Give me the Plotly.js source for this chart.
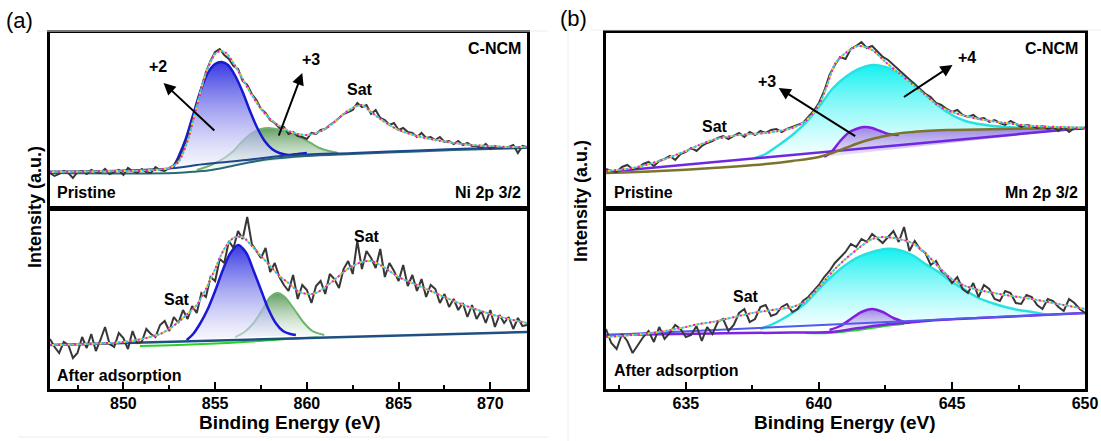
<!DOCTYPE html>
<html>
<head>
<meta charset="utf-8">
<script src="https://cdn.plot.ly/plotly-3.0.1.min.js"></script>
<style>html,body{margin:0;padding:0;background:#fff;}#chart{width:1101px;height:441px;}</style>
</head>
<body>
<div id="chart"></div>
<script>
// ---------- Ni 2p3/2 (panel a) ----------
const niEnergy = [846,846.25,846.5,846.75,847,847.25,847.5,847.75,848,848.25,848.5,848.75,849,849.25,849.5,849.75,850,850.25,850.5,850.75,851,851.25,851.5,851.75,852,852.25,852.5,852.75,853,853.25,853.5,853.75,854,854.25,854.5,854.75,855,855.25,855.5,855.75,856,856.25,856.5,856.75,857,857.25,857.5,857.75,858,858.25,858.5,858.75,859,859.25,859.5,859.75,860,860.25,860.5,860.75,861,861.25,861.5,861.75,862,862.25,862.5,862.75,863,863.25,863.5,863.75,864,864.25,864.5,864.75,865,865.25,865.5,865.75,866,866.25,866.5,866.75,867,867.25,867.5,867.75,868,868.25,868.5,868.75,869,869.25,869.5,869.75,870,870.25,870.5,870.75,871,871.25,871.5,871.75,872];
const niPristine = [36,33,35,38,36,31,37,38,35,39, 37,36,40,35,37,39,34,41,38,36, 40,37,36,42,39,38,41,44,49,58, 70,86,104,121,137,148,157,160,154,150, 143,140,128,124,115,109,100,96,89,86, 81,82,75,77,73,72,70,76,75,79, 80,84,87,91,95,97,99,106,102,104, 95,99,91,89,84,86,79,81,77,76, 72,76,71,72,69,72,67,68,65,68, 64,66,63,63,61,65,60,63,61,62, 62,64,56,63,62];
const niAdsorbed = [50,42,36,47,44,31,36,52,41,55, 38,49,62,45,42,56,51,40,58,46, 47,60,55,52,64,68,58,72,66,79, 70,83,76,96,92,112,108,130,126,148, 141,158,150,172,145,138,131,141,117,126, 112,104,98,114,90,104,99,86,103,108, 95,115,110,101,120,128,115,148,120,138, 131,121,140,112,126,118,108,124,103,114, 98,110,92,104,100,86,95,82,90,79, 86,72,84,70,78,66,79,62,74,66, 72,60,71,63,64];
const niFitEnergy = [846,848,850,851,852,852.5,853,853.5,854,854.5,855,855.3,855.6,856,856.5,857,857.5,858,858.5,859,859.5,860,860.5,861,861.5,862,862.5,863,863.5,864,864.5,865,866,867,868,869,870,871,872];
const niFitPristine = [37,37.5,38,38.5,39.5,41,47,68,103,136,155,158,156,146,130,114,100,90,83,78,75,74,76,80,87,95,101,104,97,90,84,79,73,69,66,64,63,62,62];
const niFitAdsorbed = [44,45,47,50,55,60,67,75,84,100,120,133,143,151,152,143,133,123,113,106,98,95,96,102,109,117,123,127,128,124,118,112,104,96,88,81,75,70,66];
// components (pristine)
const ni2Energy = [852.7,853.0,853.4,853.8,854.2,854.6,855.0,855.35,855.7,856.1,856.5,856.9,857.3,857.7,858.1,858.5,859.0,859.5,860.0];
const ni2Pristine = [41,52,70,94,118,136,145,147,144,133,117,98,81,68,60,56,54,55,56];
const ni3Energy = [854.0,854.5,855.0,855.5,856.0,856.5,857.0,857.5,857.9,858.3,858.8,859.2,859.7,860.2,860.7,861.2,861.7];
const ni3Pristine = [39,42,46,51,58,68,76,80,81,80,78,76,71,66,61,58,56];
const niBg1Energy = [846,850,852.85,854,855,856.7,858.6,860,862.5,866,869,872];
const niBg1Pristine = [37.5,38.5,41,44,46,49,53,54.5,56,58.5,60.5,62];
const niBg2Energy = [846,852.85,854,854.8,855.8,856.7,857.6,858.6,860,862.5,866,869,872];
const niBg2Pristine = [36,36,37.5,39,42.5,46,49,51,53,55,57.5,59.5,61];
// components (after adsorption)
const ni2AdsEnergy = [853.45,853.8,854.2,854.6,855.0,855.4,855.8,856.25,856.7,857.1,857.5,857.9,858.3,858.7,859.1,859.4];
const ni2Adsorbed = [49,55,66,80,98,118,135,144,136,118,99,80,66,58,55,54];
const ni3AdsEnergy = [856.1,856.6,857.1,857.6,858.0,858.4,858.8,859.3,859.8,860.3,860.95];
const ni3Adsorbed = [52,57,66,80,92,96,92,80,67,58,54];
const niBgAdsEnergy = [846,872];
const niBgAdsorbed = [44,57];
const niBgGreenEnergy = [850.9,853,855,857,858.5,860.6];
const niBgGreen = [43,44,45.5,47.5,49.5,51.5];

// ---------- Mn 2p3/2 (panel b) ----------
const mnEnergy = [632,632.2,632.4,632.6,632.8,633,633.2,633.4,633.6,633.8,634,634.2,634.4,634.6,634.8,635,635.2,635.4,635.6,635.8,636,636.2,636.4,636.6,636.8,637,637.2,637.4,637.6,637.8,638,638.2,638.4,638.6,638.8,639,639.2,639.4,639.6,639.8,640,640.2,640.4,640.6,640.8,641,641.2,641.4,641.6,641.8,642,642.2,642.4,642.6,642.8,643,643.2,643.4,643.6,643.8,644,644.2,644.4,644.6,644.8,645,645.2,645.4,645.6,645.8,646,646.2,646.4,646.6,646.8,647,647.2,647.4,647.6,647.8,648,648.2,648.4,648.6,648.8,649,649.2,649.4,649.6,649.8,650];
const mnPristine = [40,38,37,42,44,40,41,45,47,43, 48,50,53,49,55,57,61,58,63,66, 68,71,73,70,73,76,72,77,74,78, 76,79,80,77,80,82,84,86,92,98, 106,118,134,144,152,150,160,163,167,161, 163,158,152,149,144,140,134,130,125,119, 115,112,106,104,100,97,99,94,92,94, 90,91,87,89,86,84,88,85,82,84, 83,81,83,80,82,78,82,77,81,80, 81];
const mnAdsorbed = [60,46,40,55,48,36,44,52,58,47, 62,50,56,64,60,52,54,63,48,62, 55,67,70,58,64,76,80,67,70,82, 84,73,75,82,85,77,80,88,92,98, 104,112,118,126,132,137,145,142,150,147, 155,150,146,152,158,147,162,138,148,140, 136,124,128,118,114,106,112,100,96,106, 92,104,100,90,88,98,96,86,85,94, 92,84,80,90,88,82,78,90,86,80, 76];
const mnFitEnergy = [632,633,634,635,635.5,636,636.5,637,637.5,638,638.5,639,639.5,640,640.3,640.6,641,641.5,642,642.5,643,643.5,644,644.5,645,645.5,646,647,648,649,650];
const mnFitPristine = [38,41,48,58,64,69,72,74,75,76,78,81,88,104,123,145,156,163,159,147,136,125,114,103,97,93,90,86,83,82,81];
const mnFitAdsorbed = [52,54,57,62,65,67,70,73,76,78,80,82,88,102,111,120,130,141,150,152,150,146,136,122,110,103,99,94,90,85,80];
// components (pristine)
const mn4Energy = [637.6,638,638.5,639,639.5,640,640.5,641,641.5,642,642.5,643,643.5,644,644.5,645,645.5,646,647,648,649,650];
const mn4Pristine = [51,55,64,74,86,102,120,132,140,144,142,136,127,115,103,94,88,85,82,81,81,81];
const mn3Energy = [640.2,640.5,640.8,641.1,641.4,641.7,642.0,642.3,642.6,643.0];
const mn3Pristine = [52,58,68,76,80,82,81,78,75,74];
const mnShirleyEnergy = [632,634,636,638,639,640,640.5,641,641.5,642,642.5,643,644,645,647,650];
const mnShirleyPristine = [36,38,41,45,48,52,56,61,66,70,73,75.5,78,79,80,81];
const mnLinearEnergy = [632,650];
const mnLinearPristine = [37,81];
// components (after adsorption)
const mn4AdsEnergy = [637.8,638,638.5,639,639.5,640,640.5,641,641.5,642,642.5,643,643.5,644,644.5,645,645.5,646,646.5,647,647.5,648,648.6];
const mn4Adsorbed = [60,62,68,76,86,100,113,124,132,137,140,139,134,125,117,107,99,91,86,82,79,77,74];
const mn3AdsEnergy = [640.4,640.8,641.2,641.6,642.0,642.4,642.8,643.2];
const mn3Adsorbed = [59,63,70,77,80,77,71,67];
const mnLinearAdsorbed = [54,76];
const mnBaseAdsEnergy = [632,636,639,640.4,641.5,642.5,643.2,644.5,646,650];
const mnBaseAdsorbed = [54,55.5,56.5,57,61,64.5,66,69,71,76];
const mnGreenAdsEnergy = [639.5,640.4,641.5,642.5,643.2];
const mnGreenAdsorbed = [56,56,59,63,65];

// ---------- helpers ----------
const FONT = 'Liberation Sans, Arial, Helvetica, sans-serif';
function ln(x, y, ax, color, width, extra) {
  return Object.assign({type:'scatter', mode:'lines', x:x, y:y, xaxis:'x'+ax, yaxis:'y'+ax,
    line:{color:color, width:width}, hoverinfo:'skip', showlegend:false}, extra || {});
}
function peak(x, y, ax, lineColor, topColor, botColor, w) {
  return ln(x, y, ax, lineColor, w, {fill:'toself', line:{color:lineColor, width:w, shape:'spline', smoothing:0.8},
    fillgradient:{type:'vertical', colorscale:[[0, botColor],[1, topColor]]}});
}
function dots(x, y, ax) {
  return [
    ln(x, y, ax, 'rgba(185,185,185,0.9)', 1.5, {line:{color:'rgba(185,185,185,0.9)', width:1.5, shape:'spline', smoothing:0.8}}),
    ln(x, y, ax, '#e020c0', 2, {line:{color:'#e020c0', width:2, dash:'2px,6px', shape:'spline', smoothing:0.8}}),
    ln(x, y, ax, '#f0d020', 2, {line:{color:'#f0d020', width:2, dash:'0px,2px,2px,4px', shape:'spline', smoothing:0.8}}),
    ln(x, y, ax, '#20c8e8', 2, {line:{color:'#20c8e8', width:2, dash:'0px,4px,2px,2px', shape:'spline', smoothing:0.8}})
  ];
}
const BLUE_TOP='rgba(45,45,225,0.95)', BLUE_BOT='rgba(240,240,252,0.5)';
const GREEN_TOP='rgba(70,140,70,0.85)', GREEN_BOT='rgba(240,248,240,0.4)';
const CYAN_TOP='rgba(20,240,240,1)', CYAN_BOT='rgba(240,255,255,0.6)';
const PURP_TOP='rgba(150,110,225,0.85)', PURP_BOT='rgba(225,215,245,0.6)';
const DATA='rgb(55,55,55)';

// purple (+3, pristine Mn) fill region: peak then Shirley background to the right edge
const mn3FillX = mn3Energy.concat(mnShirleyEnergy.filter(e => e > 643));
const mn3FillY = mn3Pristine.concat(mnShirleyPristine.filter((v, i) => mnShirleyEnergy[i] > 643));

const traces = [];
// (a) top: pristine Ni
traces.push(peak(ni3Energy, ni3Pristine, '', 'rgb(110,180,110)', GREEN_TOP, GREEN_BOT, 2));
traces.push(peak(ni2Energy, ni2Pristine, '', 'rgb(25,25,205)', BLUE_TOP, BLUE_BOT, 2.5));
traces.push(ln(niBg2Energy, niBg2Pristine, '', 'rgb(40,105,115)', 2, {line:{color:'rgb(40,105,115)', width:2, shape:'spline'}}));
traces.push(ln(niBg1Energy, niBg1Pristine, '', 'rgb(30,70,145)', 2, {line:{color:'rgb(30,70,145)', width:2, shape:'spline'}}));
traces.push(ln(niEnergy, niPristine, '', DATA, 2));
dots(niFitEnergy, niFitPristine, '').forEach(t => traces.push(t));
// (a) bottom: after adsorption
traces.push(peak(ni3AdsEnergy, ni3Adsorbed, '2', 'rgb(110,180,110)', GREEN_TOP, GREEN_BOT, 2));
traces.push(peak(ni2AdsEnergy, ni2Adsorbed, '2', 'rgb(25,25,215)', BLUE_TOP, BLUE_BOT, 2.5));
traces.push(ln(niBgGreenEnergy, niBgGreen, '2', 'rgb(40,210,40)', 2, {line:{color:'rgb(40,210,40)', width:2, shape:'spline'}}));
traces.push(ln(niBgAdsEnergy, niBgAdsorbed, '2', 'rgb(30,80,130)', 2.5));
traces.push(ln(niEnergy, niAdsorbed, '2', DATA, 2));
dots(niFitEnergy, niFitAdsorbed, '2').forEach(t => traces.push(t));
// (b) top: pristine Mn
traces.push(peak(mn4Energy, mn4Pristine, '3', 'rgb(40,225,225)', CYAN_TOP, CYAN_BOT, 2.5));
traces.push(ln(mn3FillX, mn3FillY, '3', 'rgba(0,0,0,0)', 0, {fill:'toself', fillgradient:{type:'vertical', colorscale:[[0, PURP_BOT],[1, PURP_TOP]]}}));
traces.push(ln(mnLinearEnergy, mnLinearPristine, '3', 'rgb(110,40,225)', 2.5));
traces.push(ln(mn3Energy, mn3Pristine, '3', 'rgb(130,30,220)', 2.5, {line:{color:'rgb(130,30,220)', width:2.5, shape:'spline', smoothing:0.8}}));
traces.push(ln(mnShirleyEnergy, mnShirleyPristine, '3', 'rgb(125,115,45)', 2.5, {line:{color:'rgb(125,115,45)', width:2.5, shape:'spline'}}));
traces.push(ln(mnEnergy, mnPristine, '3', DATA, 2));
dots(mnFitEnergy, mnFitPristine, '3').forEach(t => traces.push(t));
// (b) bottom: after adsorption
traces.push(peak(mn4AdsEnergy, mn4Adsorbed, '4', 'rgb(40,225,225)', CYAN_TOP, CYAN_BOT, 2.5));
traces.push(peak(mn3AdsEnergy, mn3Adsorbed, '4', 'rgb(130,30,220)', PURP_TOP, PURP_BOT, 2.5));
traces.push(ln(mnGreenAdsEnergy, mnGreenAdsorbed, '4', 'rgb(40,210,40)', 2, {line:{color:'rgb(40,210,40)', width:2, shape:'spline'}}));
traces.push(ln(mnBaseAdsEnergy, mnBaseAdsorbed, '4', 'rgb(125,35,225)', 2.5, {line:{color:'rgb(125,35,225)', width:2.5, shape:'spline'}}));
traces.push(ln(mnLinearEnergy, mnLinearAdsorbed, '4', 'rgb(80,90,235)', 2));
traces.push(ln(mnEnergy, mnAdsorbed, '4', DATA, 2));
dots(mnFitEnergy, mnFitAdsorbed, '4').forEach(t => traces.push(t));

// ---------- axes ----------
const XA = [0.0454, 0.4787], XB = [0.5504, 0.9855];
const YT = [0.5261, 0.9252], YB = [0.1179, 0.5261];
function frameX(dom, rng, anchor, bottom) {
  const a = {domain:dom, range:rng, anchor:anchor, showline:true, mirror:true, linewidth:2.5, linecolor:'#000',
    showgrid:false, zeroline:false, fixedrange:true};
  if (bottom) {
    Object.assign(a, {ticks:'inside', dtick:5, tick0:rng[0] < 700 ? 635 : 850, ticklen:7, tickwidth:2, tickcolor:'#000',
      minor:{dtick:2.5, ticks:'inside', ticklen:4, tickwidth:2, tickcolor:'#000', showgrid:false},
      ticklabelstandoff:-2,
      tickfont:{family:FONT, size:16, color:'#000', weight:'bold'}});
  } else {
    Object.assign(a, {showticklabels:false, ticks:''});
  }
  return a;
}
function frameY(dom, rng, anchor) {
  return {domain:dom, range:rng, anchor:anchor, showline:true, mirror:true, linewidth:2.5, linecolor:'#000',
    showgrid:false, zeroline:false, showticklabels:false, ticks:'', fixedrange:true};
}

function txt(text, x, y, xref, yref, size, extra) {
  return Object.assign({text:text, x:x, y:y, xref:xref, yref:yref, showarrow:false, xanchor:'center', yanchor:'middle',
    font:{family:FONT, size:size || 16, color:'#000', weight:'bold'}}, extra || {});
}
function arrow(x, y, ax, ay, s) {
  return {text:'', x:x, y:y, ax:ax, ay:ay, xref:'x'+s, yref:'y'+s, axref:'x'+s, ayref:'y'+s,
    showarrow:true, arrowhead:2, arrowsize:1.2, arrowwidth:2, arrowcolor:'#000', standoff:0, startstandoff:0};
}
const px = v => v / 1101, py = v => 1 - v / 441;
const annotations = [
  txt('(a)', px(4), py(20), 'paper', 'paper', 22, {xanchor:'left', font:{family:FONT, size:22, color:'#000'}}),
  txt('(b)', px(558), py(19), 'paper', 'paper', 22, {xanchor:'left', font:{family:FONT, size:22, color:'#000'}}),
  txt('Intensity (a.u.)', px(35), py(207), 'paper', 'paper', 18, {textangle:-90}),
  txt('Intensity (a.u.)', px(581), py(201), 'paper', 'paper', 18, {textangle:-90}),
  txt('Binding Energy (eV)', px(290), py(422), 'paper', 'paper', 19),
  txt('Binding Energy (eV)', px(845), py(422), 'paper', 'paper', 19),
  txt('C-NCM', px(523), py(48), 'paper', 'paper', 16, {xanchor:'right'}),
  txt('Pristine', px(55), py(192), 'paper', 'paper', 16, {xanchor:'left'}),
  txt('Ni 2p 3/2', px(523), py(192), 'paper', 'paper', 16, {xanchor:'right'}),
  txt('After adsorption', px(55), py(375), 'paper', 'paper', 16, {xanchor:'left'}),
  txt('C-NCM', px(1080), py(48), 'paper', 'paper', 16, {xanchor:'right'}),
  txt('Pristine', px(612), py(192), 'paper', 'paper', 16, {xanchor:'left'}),
  txt('Mn 2p 3/2', px(1080), py(192), 'paper', 'paper', 16, {xanchor:'right'}),
  txt('After adsorption', px(612), py(370), 'paper', 'paper', 16, {xanchor:'left'}),
  txt('+2', 851.86, 142, 'x', 'y'),
  txt('+3', 860.2, 149, 'x', 'y'),
  txt('Sat', 862.9, 119, 'x', 'y'),
  txt('Sat', 852.9, 89, 'x2', 'y2'),
  txt('Sat', 863.26, 152, 'x2', 'y2'),
  txt('+3', 638.04, 127, 'x3', 'y3'),
  txt('+4', 645.55, 151, 'x3', 'y3'),
  txt('Sat', 636.09, 82, 'x3', 'y3'),
  txt('Sat', 637.25, 92, 'x4', 'y4'),
  arrow(852.19, 126, 855.04, 77, ''),
  arrow(859.75, 136, 858.44, 72, ''),
  arrow(638.49, 121, 641.42, 72, '3'),
  arrow(645.02, 144, 643.14, 111, '3')
];

const layout = {
  width:1101, height:441, margin:{l:0, r:0, t:0, b:0},
  paper_bgcolor:'#fff', plot_bgcolor:'#fff', showlegend:false,
  font:{family:FONT, color:'#000'},
  xaxis: frameX(XA, [846, 872], 'y', false),
  yaxis: frameY(YT, [0, 176], 'x'),
  xaxis2: frameX(XA, [846, 872], 'y2', true),
  yaxis2: frameY(YB, [0, 180], 'x2'),
  xaxis3: frameX(XB, [632, 650], 'y3', false),
  yaxis3: frameY(YT, [0, 176], 'x3'),
  xaxis4: frameX(XB, [632, 650], 'y4', true),
  yaxis4: frameY(YB, [0, 180], 'x4'),
  annotations: annotations,
  shapes: [
    {type:'line', xref:'paper', yref:'paper', x0:px(568), x1:px(568), y0:py(30), y1:0, line:{color:'#ececec', width:1}},
    {type:'line', xref:'paper', yref:'paper', x0:px(590), x1:1, y0:py(30), y1:py(30), line:{color:'#ececec', width:1}},
    {type:'line', xref:'paper', yref:'paper', x0:px(38), x1:px(548), y0:py(31), y1:py(31), line:{color:'#ececec', width:1}},
    {type:'line', xref:'paper', yref:'paper', x0:px(18), x1:px(548), y0:py(437), y1:py(437), line:{color:'#ececec', width:1}}
  ]
};

Plotly.newPlot('chart', traces, layout, {displayModeBar:false, staticPlot:true});
</script>
</body>
</html>
